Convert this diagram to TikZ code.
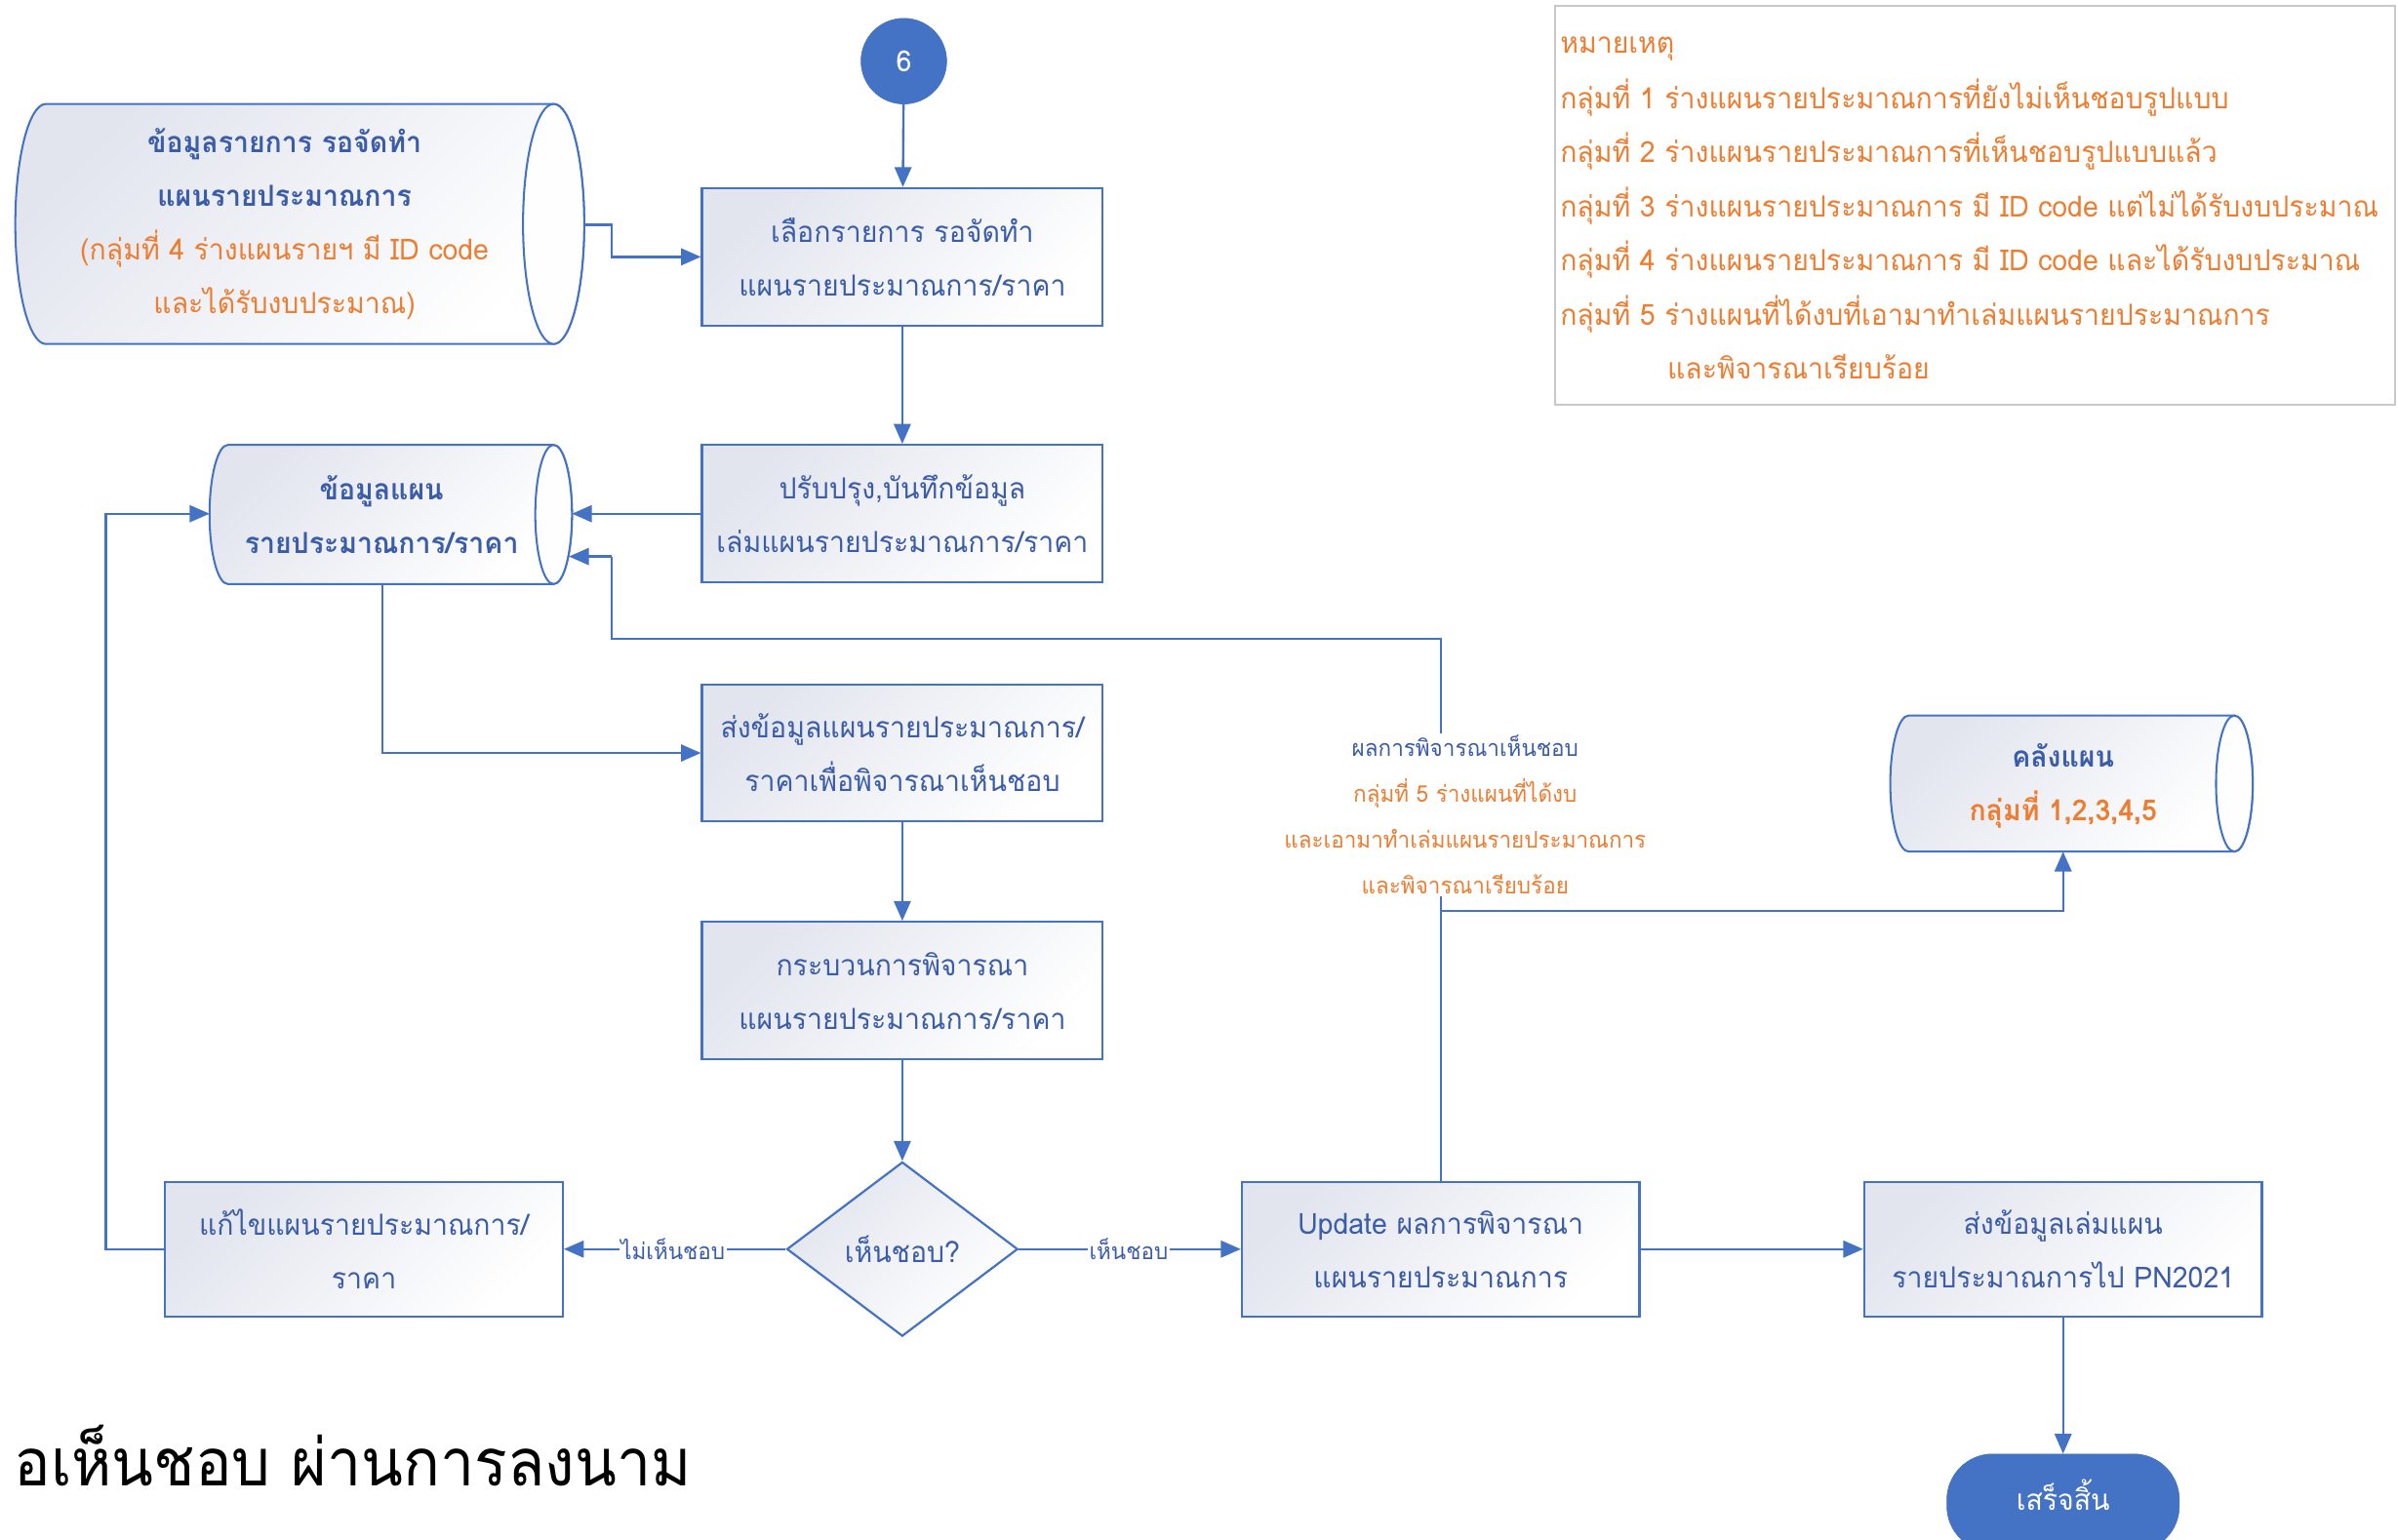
\documentclass[tikz,border=0pt]{standalone}
\usepackage{fontspec}
\setmainfont[Script=Thai,FakeStretch=0.955]{Loma}
\newfontfamily\bigthai[Script=Thai,FakeStretch=0.93]{Loma}
\usetikzlibrary{arrows.meta,shapes.geometric,calc}
\definecolor{bl}{HTML}{4472C4}
\definecolor{tx}{HTML}{3B5CA8}
\definecolor{og}{HTML}{ED7D31}
\definecolor{gL}{HTML}{E2E5EE}
\definecolor{lgr}{HTML}{C8C8C8}
\newcommand\mycyl[5]{%
  \pgfmathsetmacro\cya{(#4-#2)/2}\pgfmathsetmacro\cym{(#4+#2)/2}%
  \path[cylbody] (#3-#5,#2) -- (#1+#5,#2)
     arc[start angle=270,end angle=90,x radius=#5,y radius=\cya]
     -- (#3-#5,#4)
     arc[start angle=90,end angle=-90,x radius=#5,y radius=\cya] -- cycle;
  \path[cylcap] (#3-#5,\cym) ellipse[x radius=#5,y radius=\cya];}
\begin{document}
\begin{tikzpicture}[x=1pt,y=-1pt,
  proc/.style={draw=bl, line width=1.4pt, top color=gL, bottom color=white,
     shading angle=45, text=tx, align=center, inner sep=0pt,
     font=\fontsize{19}{35}\selectfont, minimum width=262pt, minimum height=90pt},
  dia/.style={diamond, draw=bl, line width=1.4pt, top color=gL, bottom color=white,
     shading angle=45, text=tx, inner sep=0pt, aspect=1.32,
     minimum width=151pt, minimum height=114pt, font=\fontsize{19}{35}\selectfont},
  cylbody/.style={draw=bl, line width=1.3pt, top color=gL, bottom color=white, shading angle=45},
  cylcap/.style={draw=bl, line width=1.3pt, fill=white!96!gL},
  cyltext/.style={align=center, inner sep=0pt, font=\fontsize{19}{35}\selectfont},
  term/.style={fill=bl, draw=bl, text=white, inner sep=0pt, font=\fontsize{19}{35}\selectfont},
  ln/.style={draw=bl, line width=1.5pt},
  arr/.style={draw=bl, line width=1.5pt, -{Triangle[length=13pt,width=11pt]}},
  lab/.style={fill=white, inner sep=1pt, align=center},
  legt/.style={anchor=base west, text=og, inner sep=0pt, font=\fontsize{19}{35}\selectfont}
]
\useasboundingbox (0,0) rectangle (1568,1007);

% legend
\draw[draw=lgr, line width=1.2pt] (1017,4) rectangle (1566,265);
\node[legt] (l0) at (1020,35) {หมายเหตุ};
\node[legt] (l1) at (1020,71) {กลุ่มที่ 1 ร่างแผนรายประมาณการที่ยังไม่เห็นชอบรูปแบบ};
\node[legt] (l2) at (1020,106) {กลุ่มที่ 2 ร่างแผนรายประมาณการที่เห็นชอบรูปแบบแล้ว};
\node[legt] (l3) at (1020,142) {กลุ่มที่ 3 ร่างแผนรายประมาณการ มี ID code แต่ไม่ได้รับงบประมาณ};
\node[legt] (l4) at (1020,177) {กลุ่มที่ 4 ร่างแผนรายประมาณการ มี ID code และได้รับงบประมาณ};
\node[legt] (l5) at (1020,213) {กลุ่มที่ 5 ร่างแผนที่ได้งบที่เอามาทำเล่มแผนรายประมาณการ};
\node[legt] (l6) at (1090,248) {และพิจารณาเรียบร้อย};

% cylinders
\mycyl{10}{68}{382}{225}{20}
\node[cyltext, minimum width=352pt, minimum height=157pt] (B) at (186,146.5)
  {\textcolor{tx}{\bfseries ข้อมูลรายการ รอจัดทำ}\\\textcolor{tx}{\bfseries แผนรายประมาณการ}\\
   \textcolor{og}{(กลุ่มที่ 4 ร่างแผนรายฯ มี ID code}\\\textcolor{og}{และได้รับงบประมาณ)}};
\coordinate (Be) at (382,147);
\mycyl{137}{291}{374}{382}{12}
\node[cyltext, minimum width=225pt, minimum height=91pt] (D) at (249.5,336.5)
  {\textcolor{tx}{\bfseries ข้อมูลแผน}\\\textcolor{tx}{\bfseries รายประมาณการ/ราคา}};
\coordinate (De) at (374,336);
\coordinate (Dw) at (137,336);
\mycyl{1236}{468}{1473}{557}{12}
\node[cyltext, minimum width=225pt, minimum height=89pt] (L) at (1349,514)
  {\textcolor{tx}{\bfseries คลังแผน}\\\textcolor{og}{\bfseries กลุ่มที่ 1,2,3,4,5}};
\coordinate (Ls) at (1349,557);

% process boxes
\node[circle, term, minimum size=56pt] (S) at (591,40) {6};
\node[proc] (A) at (590,168) {เลือกรายการ รอจัดทำ\\แผนรายประมาณการ/ราคา};
\node[proc] (C) at (590,336) {ปรับปรุง,บันทึกข้อมูล\\เล่มแผนรายประมาณการ/ราคา};
\node[proc, minimum height=89pt] (E) at (590,492.5) {ส่งข้อมูลแผนรายประมาณการ/\\ราคาเพื่อพิจารณาเห็นชอบ};
\node[proc] (F) at (590,648) {กระบวนการพิจารณา\\แผนรายประมาณการ/ราคา};
\node[dia] (G) at (590,817) {เห็นชอบ?};
\node[proc, minimum width=260pt, minimum height=88pt] (H) at (238,817) {แก้ไขแผนรายประมาณการ/\\ราคา};
\node[proc, minimum width=260pt, minimum height=88pt] (I) at (942,817) {Update ผลการพิจารณา\\แผนรายประมาณการ};
\node[proc, minimum width=260pt, minimum height=88pt] (J) at (1349,817) {ส่งข้อมูลเล่มแผน\\รายประมาณการไป PN2021};
\node[term, rounded corners=30pt, minimum width=152pt, minimum height=64pt] (K) at (1349,983) {};
\node[text=white, inner sep=0pt, font=\fontsize{19}{35}\selectfont] (Kt) at (1349,978) {เสร็จสิ้น};

% connectors
\draw[arr] (S) -- (A);
\draw[arr] (Be) -- ++(18,0) |- (A.west);
\draw[arr] (A) -- (C);
\draw[arr] (C.west) -- (De);
\draw[arr] (250,382) |- (E.west);
\draw[arr] (E) -- (F);
\draw[arr] (F) -- (G);
\draw[arr] (G.west) -- (H.east);
\draw[arr] (G.east) -- (I.west);
\draw[arr] (H.west) -- ++(-38,0) |- (Dw);
\draw[arr] (I.east) -- (J.west);
\draw[arr] (J) -- (K);
\coordinate (up) at (942,418);
\coordinate (sp) at (942,596);
\coordinate (dr) at (372,364);
\draw[ln] (I.north) -- (up) -- (400,418) -- (400,364);
\draw[arr] (400,364) -- (dr);
\draw[arr] (sp) -| (Ls);

% labels
\node[lab, font=\fontsize{15}{30}\selectfont] (m1) at (958,533)
  {\textcolor{tx}{ผลการพิจารณาเห็นชอบ}\\\textcolor{og}{กลุ่มที่ 5 ร่างแผนที่ได้งบ}\\
   \textcolor{og}{และเอามาทำเล่มแผนรายประมาณการ}\\\textcolor{og}{และพิจารณาเรียบร้อย}};
\node[lab, text=tx, font=\fontsize{15}{20}\selectfont] (m2) at (440,817) {ไม่เห็นชอบ};
\node[lab, text=tx, font=\fontsize{15}{20}\selectfont] (m3) at (738,817) {เห็นชอบ};

% bottom text
\node[anchor=base west, inner sep=0pt, font=\bigthai\fontsize{43}{50}\selectfont] (bt) at (9,972) {อเห็นชอบ ผ่านการลงนาม};
\end{tikzpicture}
\end{document}
